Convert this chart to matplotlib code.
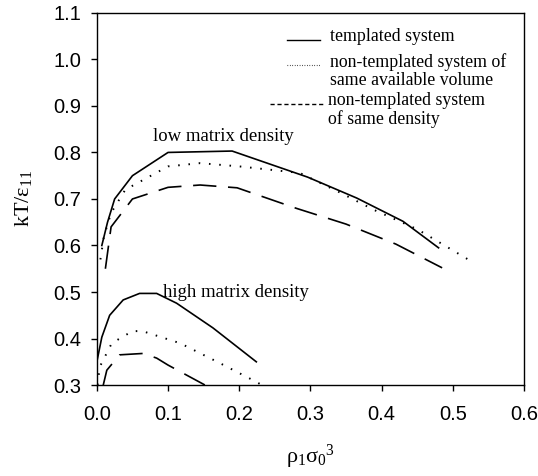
import matplotlib
matplotlib.use("Agg")
import matplotlib.pyplot as plt

plt.rcParams['mathtext.fontset'] = 'custom'
plt.rcParams['mathtext.rm'] = 'Liberation Serif'
plt.rcParams['mathtext.it'] = 'Liberation Serif'

# low matrix density
low_tmpl_x = [0.007, 0.015, 0.025, 0.05, 0.1, 0.19, 0.296, 0.365, 0.43, 0.48]
low_tmpl_y = [0.60, 0.65, 0.70, 0.75, 0.80, 0.803, 0.747, 0.702, 0.652, 0.595]
low_vol_x = [0.005, 0.01, 0.02, 0.04, 0.1, 0.145, 0.2, 0.285, 0.34, 0.39, 0.45, 0.527]
low_vol_y = [0.57, 0.62, 0.67, 0.72, 0.77, 0.777, 0.77, 0.756, 0.715, 0.676, 0.635, 0.565]
low_dens_x = [0.012, 0.02, 0.05, 0.1, 0.145, 0.197, 0.28, 0.35, 0.42, 0.485]
low_dens_y = [0.55, 0.64, 0.70, 0.725, 0.73, 0.724, 0.68, 0.646, 0.603, 0.552]

# high matrix density
high_tmpl_x = [0.0, 0.007, 0.018, 0.037, 0.06, 0.084, 0.112, 0.163, 0.224]
high_tmpl_y = [0.35, 0.403, 0.45, 0.483, 0.497, 0.497, 0.476, 0.423, 0.35]
high_vol_x = [0.001, 0.004, 0.021, 0.05, 0.064, 0.117, 0.173, 0.22, 0.232]
high_vol_y = [0.30, 0.339, 0.39, 0.416, 0.416, 0.39, 0.347, 0.31, 0.30]
high_dens_x = [0.009, 0.014, 0.032, 0.065, 0.084, 0.10, 0.152]
high_dens_y = [0.30, 0.332, 0.365, 0.368, 0.358, 0.343, 0.30]

xticks = [0.0, 0.1, 0.2, 0.3, 0.4, 0.5, 0.6]
yticks = [0.3, 0.4, 0.5, 0.6, 0.7, 0.8, 0.9, 1.0, 1.1]

legend_labels = ["templated system",
                 "non-templated system of\nsame available volume",
                 "non-templated system\nof same density"]

fig = plt.figure(figsize=(5.38, 4.76), dpi=100)
ax = fig.add_axes([0.180, 0.191, 0.794, 0.782])

solid = dict(color='black', lw=1.2, ls='-')
dotted = dict(color='black', lw=1.4, ls=(0, (0.8, 4.5)))
dashed = dict(color='black', lw=1.2, ls=(0, (14, 7)))

ax.plot(low_tmpl_x, low_tmpl_y, **solid)
ax.plot(low_vol_x, low_vol_y, **dotted)
ax.plot(low_dens_x, low_dens_y, **dashed)
ax.plot(high_tmpl_x, high_tmpl_y, **solid)
ax.plot(high_vol_x, high_vol_y, **dotted)
ax.plot(high_dens_x, high_dens_y, **dashed)

serif = 'Liberation Serif'
ax.text(0.079, 0.834, "low matrix density", family=serif, fontsize=13.5,
        ha='left', va='center')
ax.text(0.093, 0.50, "high matrix density", family=serif, fontsize=13.5,
        ha='left', va='center')

# hand-made legend (handle sits on the first text row)
leg_styles = [dict(color='black', lw=1.0, ls='-'),
              dict(color='black', lw=0.8, ls=(0, (0.6, 1.6))),
              dict(color='black', lw=1.0, ls=(0, (3, 2)))]
leg_rows = [0.941, 0.874, 0.769]     # centre of first text row, axes fraction
leg_line_x = [(0.445, 0.522), (0.445, 0.522), (0.406, 0.534)]
leg_text_x = [0.546, 0.546, 0.541]
for lab, st, yy, lx, tx in zip(legend_labels, leg_styles, leg_rows, leg_line_x, leg_text_x):
    ax.plot(list(lx), [yy - 0.014, yy - 0.014], transform=ax.transAxes, **st)
    ax.text(tx, yy + 0.019, lab, transform=ax.transAxes, family=serif,
            fontsize=12.8, ha='left', va='top', linespacing=1.08)

ax.set_xlim(0, 0.6)
ax.set_ylim(0.3, 1.1)
ax.set_xticks(xticks)
ax.set_yticks(yticks)
ax.set_xticklabels([f"{v:.1f}" for v in xticks], family='Liberation Sans', fontsize=14.5)
ax.set_yticklabels([f"{v:.1f}" for v in yticks], family='Liberation Sans', fontsize=14.5)
ax.tick_params(direction='out', length=4.5, width=1.0)
ax.tick_params(axis='x', pad=9.5)
ax.tick_params(axis='y', pad=6.5)
for s in ax.spines.values():
    s.set_linewidth(1.0)

ax.set_xlabel(r"$\rho_1\sigma_0{}^3$", fontsize=16, labelpad=14)
ax.set_ylabel(r"$\mathrm{kT}/\varepsilon_{11}$", fontsize=16, labelpad=14)

fig.savefig("out.png", dpi=100)
